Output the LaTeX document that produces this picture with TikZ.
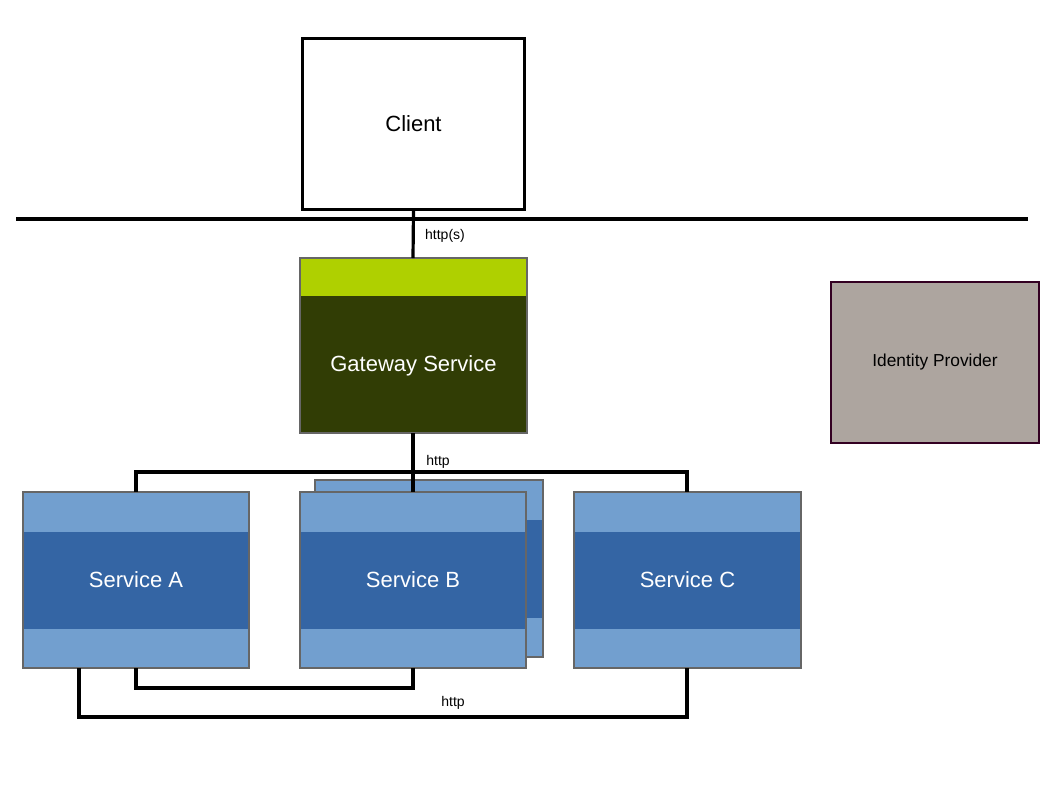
\documentclass[tikz,border=0pt]{standalone}
\usepackage{fontspec}
\setmainfont{Liberation Sans}
\begin{document}
\begin{tikzpicture}[x=0.75pt,y=-0.75pt,
  conn/.style={line width=2.4pt},
  lbl/.style={font=\fontsize{10.5}{12}\selectfont},
  svc/.style={draw=gray!80!black,line width=1.6pt,fill=lightblue}]
\definecolor{lightblue}{HTML}{729FCF}
\definecolor{darkblue}{HTML}{3465A4}
\definecolor{gwgreen}{HTML}{AFD000}
\definecolor{gwdark}{HTML}{313D05}
\definecolor{idfill}{HTML}{ADA59F}
\definecolor{idborder}{HTML}{330022}
\useasboundingbox (0,0) rectangle (1058,794);
% client
\node[draw,line width=2.4pt,fill=white,minimum width=167,minimum height=128,inner sep=0,font=\fontsize{16.5}{19}\selectfont] (client) at (413.5,124) {Client};
\draw[conn] (16,219) -- (1028,219);
% gateway
\fill[gwdark] (300,258) rectangle (527,433);
\fill[gwgreen] (300,258) rectangle (527,296);
\draw[gray!80!black,line width=1.6pt] (300,258) rectangle (527,433);
\node[white,font=\fontsize{16.5}{19}\selectfont] (gw) at (413.5,366) {Gateway Service};
\coordinate (gwtop) at (413,258);
\coordinate (gwbot) at (413,433);
\draw[conn] (client.south) -- (gwtop);
\node[lbl] (l1) at (445,236) {http(s)};
% identity provider
\node[draw=idborder,fill=idfill,line width=1.6pt,minimum width=156,minimum height=121,inner sep=0,font=\fontsize{13}{15}\selectfont] (idp) at (935,362.5) {Identity Provider};
% services
\foreach \n/\x/\t in {Bs/315/,A/23/Service A,B/300/Service B,C/574/Service C}{
  \ifx\n Bs
  \fi
}
\def\svcbox#1#2#3#4#5{%
  \fill[lightblue] (#1,#2) rectangle (#3,#4);
  \fill[darkblue] (#1,#2+40) rectangle (#3,#4-39);
  \draw[gray!80!black,line width=1.6pt] (#1,#2) rectangle (#3,#4);
}
\svcbox{315}{480}{543}{657}{}
\svcbox{23}{492}{249}{668}{}
\svcbox{300}{492}{526}{668}{}
\svcbox{574}{492}{801}{668}{}
\node[white,font=\fontsize{16.5}{19}\selectfont] (sa) at (136,580) {Service A};
\node[white,font=\fontsize{16.5}{19}\selectfont] (sb) at (413,580) {Service B};
\node[white,font=\fontsize{16.5}{19}\selectfont] (sc) at (687.5,580) {Service C};
\coordinate (atop) at (136,492);
\coordinate (btop) at (413,492);
\coordinate (ctop) at (687,492);
\draw[conn] (gwbot) -- (btop);
\draw[conn] (atop) -- (136,472) -- (687,472) -- (ctop);
\node[lbl] (l2) at (438,462) {http};
\coordinate (abot1) at (136,668);
\coordinate (abot2) at (79,668);
\coordinate (bbot) at (413,668);
\coordinate (cbot) at (687,668);
\draw[conn] (abot1) -- (136,688) -- (413,688) -- (bbot);
\draw[conn] (abot2) -- (79,717) -- (687,717) -- (cbot);
\node[lbl] (l3) at (453,703) {http};
\end{tikzpicture}
\end{document}
